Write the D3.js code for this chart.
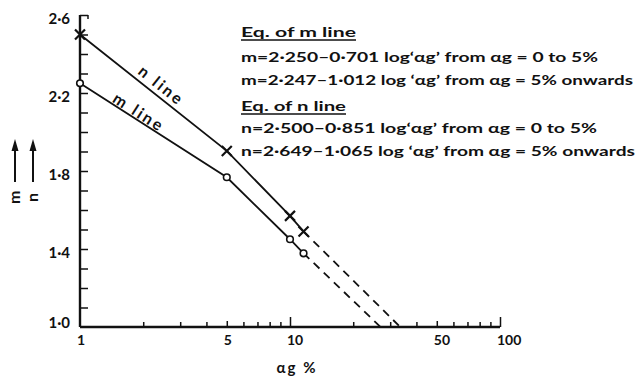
<!DOCTYPE html>
<html>
<head>
<meta charset="utf-8">
<script src="https://cdn.jsdelivr.net/npm/d3@7"></script>
<style>
  html, body { margin: 0; padding: 0; background: #fff; }
  svg { display: block; }
  text { font-family: Lato, "DejaVu Sans", sans-serif; font-weight: bold; fill: #111; }
</style>
</head>
<body>
<svg id="chart" width="636" height="378"></svg>
<script>
// ---- data ----
const xMajorTicks = [1, 5, 10, 50, 100];
const xMajorLabels = ["1", "5", "10", "50", "100"];
const xMinorTicks = [2, 3, 4, 6, 7, 8, 9, 20, 30, 40, 60, 70, 80, 90];
const yTicks = [1.0, 1.1, 1.2, 1.3, 1.4, 1.5, 1.6, 1.7, 1.8, 1.9, 2.0, 2.1, 2.2, 2.3, 2.4, 2.5, 2.6];
const yLabelValues = [1.0, 1.4, 1.8, 2.2, 2.6];
const yLabelTexts = ["1·0", "1·4", "1·8", "2·2", "2·6"];

const nX = [1, 5, 10, 11.6];
const nY = [2.5, 1.903, 1.57, 1.49];
const nDashX = [11.6, 33.5];
const nDashY = [1.49, 1.0];

const mX = [1, 5, 10, 11.6];
const mY = [2.25, 1.768, 1.45, 1.378];
const mDashX = [11.6, 27];
const mDashY = [1.378, 1.0];

const eqLines = [
  "Eq. of m line",
  "m=2·250–0·701 log‘αg’ from αg = 0 to 5%",
  "m=2·247–1·012 log ‘αg’ from αg = 5% onwards",
  "Eq. of n line",
  "n=2·500–0·851 log‘αg’ from αg = 0 to 5%",
  "n=2·649–1·065 log ‘αg’ from αg = 5% onwards"
];

// ---- layout ----
const svg = d3.select("#chart");
const x = d3.scaleLog().domain([1, 100]).range([80, 500]);
const y = d3.scaleLinear().domain([1.0, 2.6]).range([327, 15]);

const g = svg.append("g");

// X axis
const xAxis = d3.axisBottom(x)
  .tickValues(xMajorTicks.concat(xMinorTicks))
  .tickSize(-5)
  .tickFormat("");
const xg = g.append("g").attr("transform", `translate(0,${y(1.0)})`).call(xAxis);
xg.select(".domain").attr("stroke", "#111").attr("stroke-width", 2.4).attr("d", `M${x(1)},0H${x(100)}`);
xg.selectAll(".tick line")
  .attr("stroke", "#111").attr("stroke-width", 1.5)
  .attr("y2", d => (d === 10 || d === 100) ? -10 : (d === 5 || d === 50) ? -6 : -5);
xg.selectAll(".tick").filter(d => d === 1).remove();

// X tick labels
g.selectAll(".xlab").data(xMajorTicks).join("text")
  .attr("class", "xlab")
  .attr("x", d => x(d) - 3)
  .attr("y", y(1.0) + 18)
  .attr("text-anchor", "start")
  .attr("font-size", 14)
  .text((d, i) => xMajorLabels[i]);

// Y axis
const yAxis = d3.axisLeft(y).tickValues(yTicks).tickSize(-8).tickFormat("");
const yg = g.append("g").attr("transform", `translate(${x(1)},0)`).call(yAxis);
yg.select(".domain").attr("stroke", "#111").attr("stroke-width", 2.4).attr("d", `M0,${y(2.6)}V${y(1.0)}`);
yg.selectAll(".tick line").attr("stroke", "#111").attr("stroke-width", 1.5);
yg.selectAll(".tick").filter(d => d === 1.0).remove();
g.append("path").attr("d", `M${x(1) + 8},${y(2.6)}v4`).attr("stroke", "#111").attr("stroke-width", 1.5);

g.selectAll(".ylab").data(yLabelValues).join("text")
  .attr("class", "ylab")
  .attr("x", x(1) - 10)
  .attr("y", d => y(d) + (d === 1.0 ? 1 : 9))
  .attr("text-anchor", "end")
  .attr("font-size", 15)
  .text((d, i) => yLabelTexts[i]);

// Y axis title: arrows with rotated m and n below them
const arrowX = [15, 33];
const arrowSym = ["m", "n"];
arrowX.forEach((ax, i) => {
  g.append("line").attr("x1", ax).attr("x2", ax).attr("y1", 148).attr("y2", 182)
    .attr("stroke", "#111").attr("stroke-width", 2);
  g.append("path").attr("d", `M${ax},139L${ax - 3.5},151L${ax + 3.5},151Z`).attr("fill", "#111");
  g.append("text")
    .attr("x", 0).attr("y", 0)
    .attr("transform", `translate(${ax + 5},${i === 0 ? 204 : 202}) rotate(-90)`)
    .attr("text-anchor", "start")
    .attr("font-size", 16)
    .text(arrowSym[i]);
});

// X axis title
g.append("text").attr("x", 297).attr("y", 373).attr("text-anchor", "middle")
  .attr("font-size", 15).attr("letter-spacing", 2).text("αg %");

// Lines
const line = d3.line().x(d => x(d[0])).y(d => y(d[1]));
const zip = (a, b) => a.map((v, i) => [v, b[i]]);

[[nX, nY, nDashX, nDashY], [mX, mY, mDashX, mDashY]].forEach(([sx, sy, dx, dy]) => {
  g.append("path").attr("d", line(zip(sx, sy))).attr("fill", "none")
    .attr("stroke", "#111").attr("stroke-width", 1.8);
  g.append("path").attr("d", line(zip(dx, dy))).attr("fill", "none")
    .attr("stroke", "#111").attr("stroke-width", 1.8).attr("stroke-dasharray", "8,6");
});

g.selectAll(".nmark").data(zip(nX, nY)).join("path")
  .attr("class", "nmark")
  .attr("transform", d => `translate(${x(d[0])},${y(d[1])})`)
  .attr("d", "M-5,-5L5,5M-5,5L5,-5")
  .attr("stroke", "#111").attr("stroke-width", 2.2);

g.selectAll(".mmark").data(zip(mX, mY)).join("circle")
  .attr("class", "mmark")
  .attr("cx", d => x(d[0])).attr("cy", d => y(d[1])).attr("r", 3.3)
  .attr("fill", "#fff").attr("stroke", "#111").attr("stroke-width", 1.6);

function lineLabel(txt, sx, sy, cx, cy) {
  const ang = Math.atan2(y(sy[1]) - y(sy[0]), x(sx[1]) - x(sx[0])) * 180 / Math.PI;
  g.append("text")
    .attr("transform", `translate(${cx},${cy}) rotate(${ang})`)
    .attr("text-anchor", "middle")
    .attr("font-size", 16)
    .attr("letter-spacing", 2.5)
    .text(txt);
}
lineLabel("n line", nX, nY, 158, 90);
lineLabel("m line", mX, mY, 136, 117);

const eqY = [37, 62, 85, 111, 133, 156];
const eqW = [115, 357, 392, 105, 356, 394];
eqLines.forEach((t, i) => {
  g.append("text")
    .attr("x", 241).attr("y", eqY[i])
    .attr("font-size", 14)
    .attr("textLength", eqW[i]).attr("lengthAdjust", "spacingAndGlyphs")
    .text(t);
  if (i === 0 || i === 3) {
    g.append("line").attr("x1", 241).attr("x2", 241 + eqW[i])
      .attr("y1", eqY[i] + 3).attr("y2", eqY[i] + 3)
      .attr("stroke", "#111").attr("stroke-width", 1.5);
  }
});
</script>
</body>
</html>
